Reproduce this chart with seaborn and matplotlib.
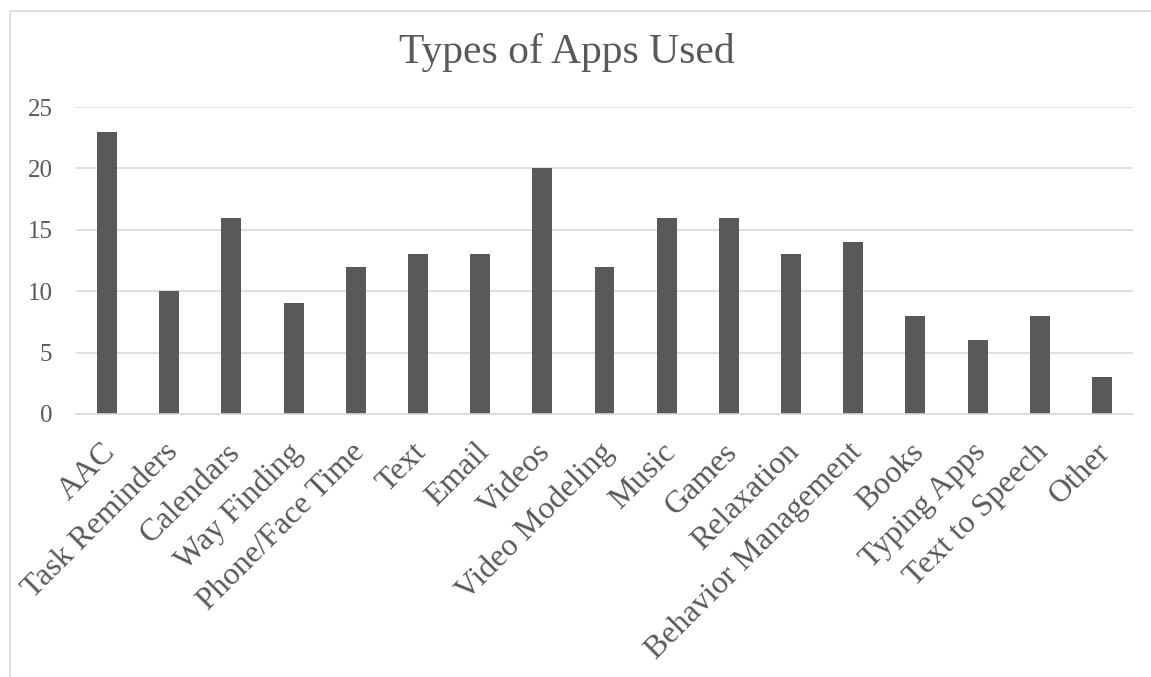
import matplotlib
matplotlib.use("Agg")
import matplotlib.pyplot as plt
import matplotlib.transforms as mtransforms
import seaborn as sns
import pandas as pd
from matplotlib.lines import Line2D

categories = ["AAC", "Task Reminders", "Calendars", "Way Finding", "Phone/Face Time",
              "Text", "Email", "Videos", "Video Modeling", "Music", "Games",
              "Relaxation", "Behavior Management", "Books", "Typing Apps",
              "Text to Speech", "Other"]
counts = [23, 10, 16, 9, 12, 13, 13, 20, 12, 16, 16, 13, 14, 8, 6, 8, 3]
yticks = [0, 5, 10, 15, 20, 25]

sns.set_theme(style="white")
plt.rcParams['font.family'] = ['Liberation Serif', 'DejaVu Serif']

df = pd.DataFrame({"category": categories, "count": counts})

fig = plt.figure(figsize=(11.51, 6.77), dpi=100)
W, H = 1151, 677
ax = fig.add_axes([76 / W, 1 - 414 / H, (1133 - 76) / W, (414 - 107) / H])

sns.barplot(data=df, x="category", y="count", color="#595959", saturation=1,
            width=0.32, ax=ax, edgecolor="none")

ax.set_ylim(0, 25)
ax.set_xlim(-0.5, len(categories) - 0.5)
ax.set_yticks(yticks)
ax.set_yticklabels([str(v) for v in yticks], fontsize=18, color="#595959")
ax.yaxis.grid(True, color="#d9d9d9", linewidth=1.2)
ax.set_axisbelow(True)
for s in ["top", "right", "left"]:
    ax.spines[s].set_visible(False)
ax.spines["bottom"].set_color("#d9d9d9")
ax.spines["bottom"].set_linewidth(1.2)
ax.tick_params(axis="y", length=0, pad=17)
ax.tick_params(axis="x", length=0, pad=17)
ax.set_xticks(range(len(categories)))
ax.set_xticklabels(categories, rotation=45, ha="right", rotation_mode="anchor",
                   fontsize=23, color="#595959")
offset = mtransforms.ScaledTranslation(-6 / 100, 0, fig.dpi_scale_trans)
for lbl in ax.get_xticklabels():
    lbl.set_transform(lbl.get_transform() + offset)
ax.set_xlabel("")
ax.set_ylabel("")

fig.text(567 / W, 1 - 52 / H, "Types of Apps Used", ha="center", va="center",
         fontsize=30, color="#595959")

x0, y0 = 10 / W, 1 - 11 / H
fig.lines.append(Line2D([x0, x0, 1.0], [0.0, y0, y0], transform=fig.transFigure,
                        color="#d9d9d9", linewidth=1.2))

fig.savefig("out.png", dpi=100, facecolor="white")
